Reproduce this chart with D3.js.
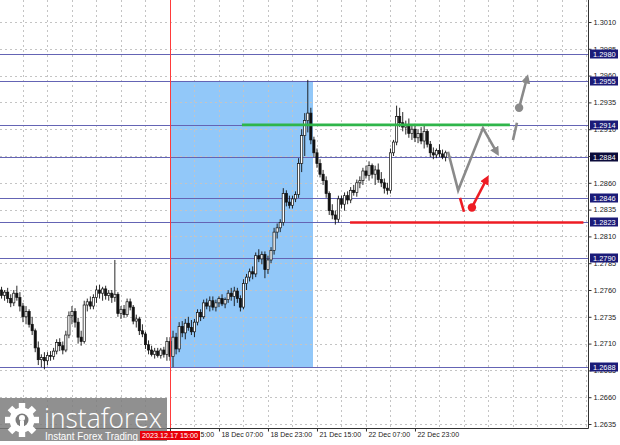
<!DOCTYPE html>
<html><head><meta charset="utf-8">
<script src="https://cdn.jsdelivr.net/npm/d3@7/dist/d3.min.js"></script>
<style>
html,body{margin:0;padding:0;background:#fff;}
svg{display:block;}
text{font-family:"Liberation Sans",Arial,sans-serif;}
</style></head>
<body><svg id="c" width="620" height="445"></svg>
<script>
// ---------------- DATA ----------------
const opens = [1.2760,1.2755,1.2758,1.2752,1.2748,1.2757,1.2753,1.2745,1.2735,1.2740,
1.2728,1.2722,1.2706,1.2695,1.2697,1.2694,1.2699,1.2698,1.2703,1.2711,
1.2708,1.2704,1.2718,1.2736,1.2740,1.2730,1.2716,1.2712,1.2746,1.2749,
1.2745,1.2753,1.2760,1.2757,1.2761,1.2755,1.2757,1.2753,1.2756,1.2738,
1.2742,1.2737,1.2749,1.2744,1.2731,1.2733,1.2722,1.2719,1.2709,1.2704,
1.2700,1.2703,1.2699,1.2704,1.2700,1.2712,1.2698,1.2716,1.2705,1.2726,
1.2720,1.2729,1.2725,1.2721,1.2730,1.2739,1.2735,1.2748,1.2745,1.2750,
1.2744,1.2748,1.2752,1.2747,1.2751,1.2757,1.2754,1.2759,1.2752,1.2744,
1.2766,1.2772,1.2777,1.2775,1.2792,1.2789,1.2793,1.2779,1.2788,1.2797,
1.2814,1.2818,1.2823,1.2850,1.2842,1.2839,1.2845,1.2849,1.2878,1.2904,
1.2918,1.2925,1.2900,1.2888,1.2878,1.2868,1.2862,1.2850,1.2834,1.2830,
1.2826,1.2845,1.2840,1.2848,1.2844,1.2853,1.2851,1.2860,1.2862,1.2871,
1.2867,1.2876,1.2868,1.2872,1.2863,1.2860,1.2855,1.2853,1.2888,1.2898,
1.2922,1.2916,1.2912,1.2914,1.2906,1.2910,1.2902,1.2906,1.2899,1.2908,
1.2896,1.2888,1.2886,1.2890,1.2887,1.2884];
const highs = [1.2763,1.2760,1.2762,1.2756,1.2760,1.2764,1.2758,1.2748,1.2745,1.2742,
1.2735,1.2724,1.2712,1.2700,1.2702,1.2702,1.2703,1.2706,1.2714,1.2715,
1.2712,1.2722,1.2740,1.2745,1.2743,1.2734,1.2722,1.2750,1.2752,1.2754,
1.2756,1.2764,1.2765,1.2763,1.2764,1.2760,1.2760,1.2788,1.2758,1.2745,
1.2746,1.2752,1.2752,1.2746,1.2737,1.2735,1.2728,1.2721,1.2713,1.2708,
1.2706,1.2706,1.2706,1.2707,1.2716,1.2716,1.2722,1.2720,1.2730,1.2731,
1.2733,1.2735,1.2732,1.2733,1.2742,1.2742,1.2751,1.2752,1.2754,1.2754,
1.2751,1.2754,1.2756,1.2753,1.2760,1.2762,1.2763,1.2762,1.2755,1.2770,
1.2775,1.2780,1.2782,1.2795,1.2798,1.2796,1.2796,1.2792,1.2800,1.2818,
1.2822,1.2826,1.2855,1.2853,1.2848,1.2848,1.2852,1.2883,1.2910,1.2925,
1.2956,1.2930,1.2903,1.2892,1.2882,1.2872,1.2866,1.2852,1.2840,1.2834,
1.2848,1.2848,1.2851,1.2852,1.2856,1.2858,1.2863,1.2866,1.2874,1.2876,
1.2880,1.2878,1.2876,1.2878,1.2870,1.2864,1.2860,1.2892,1.2900,1.2932,
1.2930,1.2926,1.2918,1.2920,1.2914,1.2915,1.2910,1.2912,1.2914,1.2910,
1.2899,1.2893,1.2892,1.2896,1.2891,1.2890];
const lows = [1.2752,1.2750,1.2748,1.2744,1.2745,1.2750,1.2740,1.2730,1.2728,1.2725,
1.2718,1.2702,1.2690,1.2688,1.2686,1.2690,1.2694,1.2695,1.2700,1.2703,
1.2700,1.2702,1.2715,1.2728,1.2725,1.2710,1.2708,1.2710,1.2740,1.2742,
1.2742,1.2748,1.2752,1.2750,1.2751,1.2750,1.2748,1.2749,1.2735,1.2733,
1.2734,1.2735,1.2741,1.2728,1.2725,1.2718,1.2716,1.2705,1.2700,1.2698,
1.2696,1.2697,1.2696,1.2697,1.2694,1.2694,1.2688,1.2700,1.2702,1.2716,
1.2714,1.2722,1.2718,1.2716,1.2727,1.2731,1.2733,1.2742,1.2740,1.2741,
1.2740,1.2744,1.2745,1.2743,1.2748,1.2750,1.2745,1.2748,1.2740,1.2742,
1.2760,1.2768,1.2770,1.2772,1.2786,1.2784,1.2771,1.2775,1.2785,1.2793,
1.2808,1.2814,1.2820,1.2838,1.2836,1.2836,1.2842,1.2846,1.2870,1.2885,
1.2907,1.2896,1.2884,1.2874,1.2865,1.2858,1.2846,1.2830,1.2826,1.2821,
1.2823,1.2836,1.2834,1.2840,1.2841,1.2848,1.2847,1.2855,1.2858,1.2864,
1.2862,1.2864,1.2858,1.2860,1.2856,1.2850,1.2849,1.2850,1.2885,1.2895,
1.2912,1.2908,1.2905,1.2902,1.2900,1.2898,1.2897,1.2896,1.2892,1.2893,
1.2884,1.2882,1.2883,1.2884,1.2882,1.2880];
const closes = [1.2755,1.2758,1.2752,1.2748,1.2757,1.2753,1.2745,1.2735,1.2740,1.2728,
1.2722,1.2706,1.2695,1.2697,1.2694,1.2699,1.2698,1.2703,1.2711,1.2708,
1.2704,1.2718,1.2736,1.2740,1.2730,1.2716,1.2712,1.2746,1.2749,1.2745,
1.2753,1.2760,1.2757,1.2761,1.2755,1.2757,1.2753,1.2756,1.2738,1.2742,
1.2737,1.2749,1.2744,1.2731,1.2733,1.2722,1.2719,1.2709,1.2704,1.2700,
1.2703,1.2699,1.2704,1.2700,1.2712,1.2698,1.2716,1.2705,1.2726,1.2720,
1.2729,1.2725,1.2721,1.2730,1.2739,1.2735,1.2748,1.2745,1.2750,1.2744,
1.2748,1.2752,1.2747,1.2751,1.2757,1.2754,1.2759,1.2752,1.2744,1.2766,
1.2772,1.2777,1.2775,1.2792,1.2789,1.2793,1.2779,1.2788,1.2797,1.2814,
1.2818,1.2823,1.2850,1.2842,1.2839,1.2845,1.2849,1.2878,1.2904,1.2918,
1.2925,1.2900,1.2888,1.2878,1.2868,1.2862,1.2850,1.2834,1.2830,1.2826,
1.2845,1.2840,1.2848,1.2844,1.2853,1.2851,1.2860,1.2862,1.2871,1.2867,
1.2876,1.2868,1.2872,1.2863,1.2860,1.2855,1.2853,1.2888,1.2898,1.2922,
1.2916,1.2912,1.2914,1.2906,1.2910,1.2902,1.2906,1.2899,1.2908,1.2896,
1.2888,1.2886,1.2890,1.2887,1.2884,1.2888];

const priceTicks = [1.3010,1.2985,1.2960,1.2935,1.2910,1.2885,1.2860,1.2835,1.2810,1.2785,1.2760,1.2735,1.2710,1.2685,1.2660,1.2635];
const levelPrices = [1.2980,1.2955,1.2914,1.2884,1.2846,1.2823,1.2790,1.2688];
const timeTickIdx = [55,71,87,103,119,135];
const timeTickLabels = ["17 Dec 15:00","18 Dec 07:00","18 Dec 23:00","21 Dec 15:00","22 Dec 07:00","22 Dec 23:00"];
const gridIdx = [7,15,23,31,39,47,55,63,71,79,87,95,103,111,119,127,135,143,151,159,167,175,183,191];
const startLabel = "2023.12.17 15:00";
const startIdx = 55;
const zoneIdx = [55.3, 101.7];
const zonePrices = [1.2955, 1.2688];
const greenIdx = [78.5, 166], greenPrice = 1.2914;
const redIdx = [113.8, 190], redPrice = 1.2823;
// forecast scenario (candle index, price)
const grayPathIdx = [145.8, 149.1, 157.2, 161.8];
const grayPathPx  = [1.2889, 1.2853, 1.2911, 1.2888];
const graySegIdx = [167.0, 168.3], graySegPx = [1.2900, 1.2916];
const grayDotIdx = [169.0, 171.6], grayDotPx = [1.2930, 1.2958];
const redSegIdx = [149.7, 151.0], redSegPx = [1.2846, 1.2833];
const redDotIdx = [153.6, 158.5], redDotPx = [1.2837, 1.2864];

// ---------------- CHART ----------------
const W = 620, H = 445, plotR = 588, plotB = 428;
const svg = d3.select("#c");
const x = d3.scaleLinear().domain([-0.5, 191.5]).range([0, plotR]);
const y = d3.scaleLinear().domain([1.2635, 1.3010]).range([424, 22]);

svg.append("rect").attr("width", W).attr("height", H).attr("fill", "#fff");
svg.append("defs").append("clipPath").attr("id", "clip")
  .append("rect").attr("x", 0).attr("y", 0).attr("width", plotR).attr("height", plotB);
const defs = svg.select("defs");
function marker(id, color) {
  defs.append("marker").attr("id", id).attr("viewBox", "0 0 10 10")
    .attr("refX", 6).attr("refY", 5).attr("markerWidth", 3.6).attr("markerHeight", 3.6)
    .attr("orient", "auto").attr("markerUnits", "strokeWidth")
    .append("path").attr("d", "M0,0 L10,5 L0,10 z").attr("fill", color);
}
marker("ag", "#8a8a8a");
marker("ar", "#ee1c24");

const plot = svg.append("g").attr("clip-path", "url(#clip)");

// zone
plot.append("rect")
  .attr("x", x(zoneIdx[0])).attr("width", x(zoneIdx[1]) - x(zoneIdx[0]))
  .attr("y", y(zonePrices[0])).attr("height", y(zonePrices[1]) - y(zonePrices[0]))
  .attr("fill", "#92c8f9");

// grid
plot.selectAll(".gh").data(priceTicks).join("line")
  .attr("x1", 0).attr("x2", plotR).attr("y1", d => Math.round(y(d)) + 0.5).attr("y2", d => Math.round(y(d)) + 0.5)
  .attr("stroke", "#c4c4c4").attr("stroke-dasharray", "2,3").attr("stroke-width", 1);
plot.selectAll(".gv").data(gridIdx).join("line")
  .attr("x1", d => Math.round(x(d)) + 0.5).attr("x2", d => Math.round(x(d)) + 0.5).attr("y1", 0).attr("y2", plotB)
  .attr("stroke", "#c4c4c4").attr("stroke-dasharray", "2,3").attr("stroke-width", 1);

// level lines
plot.selectAll(".lv").data(levelPrices).join("line")
  .attr("x1", 0).attr("x2", plotR).attr("y1", d => Math.round(y(d)) + 0.5).attr("y2", d => Math.round(y(d)) + 0.5)
  .attr("stroke", "#6464b4").attr("stroke-width", 1.2);

// start vertical line
svg.append("line").attr("x1", Math.round(x(startIdx)) + 0.5).attr("x2", Math.round(x(startIdx)) + 0.5)
  .attr("y1", 0).attr("y2", plotB + 3).attr("stroke", "#ff3b3b").attr("stroke-width", 1);

// candles
const cg = plot.append("g");
const idx = d3.range(closes.length);
cg.selectAll(".wk").data(idx).join("line")
  .attr("x1", i => x(i)).attr("x2", i => x(i))
  .attr("y1", i => y(highs[i])).attr("y2", i => y(lows[i]))
  .attr("stroke", "#111").attr("stroke-width", 0.9);
cg.selectAll(".bd").data(idx).join("rect")
  .attr("x", i => x(i) - 1.1).attr("width", 2.2)
  .attr("y", i => y(Math.max(opens[i], closes[i])))
  .attr("height", i => Math.max(1, Math.abs(y(opens[i]) - y(closes[i]))))
  .attr("fill", i => closes[i] >= opens[i] ? "#fff" : "#111")
  .attr("stroke", "#111").attr("stroke-width", 0.7);

// green / red horizontal lines
plot.append("line").attr("x1", x(greenIdx[0])).attr("x2", x(greenIdx[1]))
  .attr("y1", y(greenPrice)).attr("y2", y(greenPrice)).attr("stroke", "#2fb54a").attr("stroke-width", 2.6);
plot.append("line").attr("x1", x(redIdx[0])).attr("x2", x(redIdx[1]))
  .attr("y1", y(redPrice)).attr("y2", y(redPrice)).attr("stroke", "#ee1c24").attr("stroke-width", 2.6);

// forecast
const ln = d3.line().x(d => x(d[0])).y(d => y(d[1]));
plot.append("path").attr("d", ln(d3.zip(grayPathIdx, grayPathPx))).attr("fill", "none")
  .attr("stroke", "#8a8a8a").attr("stroke-width", 2.6).attr("stroke-linejoin", "miter").attr("marker-end", "url(#ag)");
plot.append("path").attr("d", ln(d3.zip(graySegIdx, graySegPx))).attr("fill", "none")
  .attr("stroke", "#8a8a8a").attr("stroke-width", 2.6);
plot.append("path").attr("d", ln(d3.zip(grayDotIdx, grayDotPx))).attr("fill", "none")
  .attr("stroke", "#8a8a8a").attr("stroke-width", 2.6).attr("marker-end", "url(#ag)");
plot.append("circle").attr("cx", x(grayDotIdx[0])).attr("cy", y(grayDotPx[0])).attr("r", 4.2).attr("fill", "#8a8a8a");
plot.append("path").attr("d", ln(d3.zip(redSegIdx, redSegPx))).attr("fill", "none")
  .attr("stroke", "#ee1c24").attr("stroke-width", 2.6);
plot.append("path").attr("d", ln(d3.zip(redDotIdx, redDotPx))).attr("fill", "none")
  .attr("stroke", "#ee1c24").attr("stroke-width", 2.6).attr("marker-end", "url(#ar)");
plot.append("circle").attr("cx", x(redDotIdx[0])).attr("cy", y(redDotPx[0])).attr("r", 4.2).attr("fill", "#ee1c24");

// axes
const yAx = svg.append("g").attr("transform", `translate(${plotR + 0.5},0)`)
  .call(d3.axisRight(y).tickValues(priceTicks).tickFormat(d3.format(".4f")).tickSize(3).tickSizeOuter(0));
yAx.select(".domain").remove();
yAx.selectAll("text").attr("font-size", 7.4).attr("fill", "#222").attr("x", 5)
  .style("font-family", "'Liberation Sans',Arial,sans-serif");
yAx.selectAll("line").attr("stroke", "#333");
svg.append("line").attr("x1", plotR + 0.5).attr("x2", plotR + 0.5).attr("y1", 0).attr("y2", plotB + 0.5).attr("stroke", "#333");

const xAx = svg.append("g").attr("transform", `translate(0,${plotB + 0.5})`)
  .call(d3.axisBottom(x).tickValues(timeTickIdx).tickFormat((d, i) => timeTickLabels[i]).tickSize(3).tickSizeOuter(0));
xAx.select(".domain").remove();
xAx.selectAll("text").attr("font-size", 7).attr("fill", "#222").attr("text-anchor", "start").attr("dx", 2).attr("y", 4)
  .style("font-family", "'Liberation Sans',Arial,sans-serif");
xAx.selectAll("line").attr("stroke", "#333");
svg.append("line").attr("x1", 0).attr("x2", plotR + 0.5).attr("y1", plotB + 0.5).attr("y2", plotB + 0.5).attr("stroke", "#333");

// level labels on right axis
const lg = svg.append("g").selectAll("g").data(levelPrices).join("g")
  .attr("transform", d => `translate(${plotR + 2},${Math.round(y(d))})`);
lg.append("rect").attr("x", 0).attr("y", -4.5).attr("width", 28).attr("height", 9)
  .attr("fill", d => d === 1.2884 ? "#0b0b3a" : "#1b1b78");
lg.append("text").attr("x", 3).attr("y", 3).attr("font-size", 7.4).attr("fill", "#fff")
  .text(d => d3.format(".4f")(d));

// logo
const logo = svg.append("g");
logo.append("rect").attr("x", 0).attr("y", 398).attr("width", 167).attr("height", 43)
  .attr("fill", "#7c7c7c").attr("opacity", 0.85);
const gear = logo.append("g").attr("transform", "translate(22,420)");
d3.range(8).forEach(k => {
  gear.append("rect").attr("x", -3.2).attr("y", -17).attr("width", 6.4).attr("height", 8)
    .attr("fill", "#fff").attr("transform", `rotate(${k * 45})`);
});
gear.append("circle").attr("r", 12.5).attr("fill", "#fff");
gear.append("circle").attr("r", 6.5).attr("fill", "#7c7c7c");
gear.append("circle").attr("cy", -2).attr("r", 3).attr("fill", "#fff");
gear.append("rect").attr("x", -2).attr("y", 1).attr("width", 4).attr("height", 12).attr("fill", "#fff");
logo.append("text").attr("x", 44).attr("y", 428).attr("font-size", 27).attr("fill", "#fff")
  .attr("textLength", 118).attr("lengthAdjust", "spacingAndGlyphs")
  .style("font-family", "'Open Sans',Lato,sans-serif").style("font-weight", 300).text("instaforex");
logo.append("text").attr("x", 45).attr("y", 440).attr("font-size", 10.5).attr("fill", "#fff")
  .attr("textLength", 93).attr("lengthAdjust", "spacingAndGlyphs").text("Instant Forex Trading");

// start date label box
svg.append("rect").attr("x", 140).attr("y", plotB + 3).attr("width", 60).attr("height", 9).attr("fill", "#e8000b");
svg.append("text").attr("x", 142).attr("y", plotB + 10).attr("font-size", 7).attr("fill", "#fff")
  .attr("textLength", 56).attr("lengthAdjust", "spacingAndGlyphs").text(startLabel);
</script></body></html>
